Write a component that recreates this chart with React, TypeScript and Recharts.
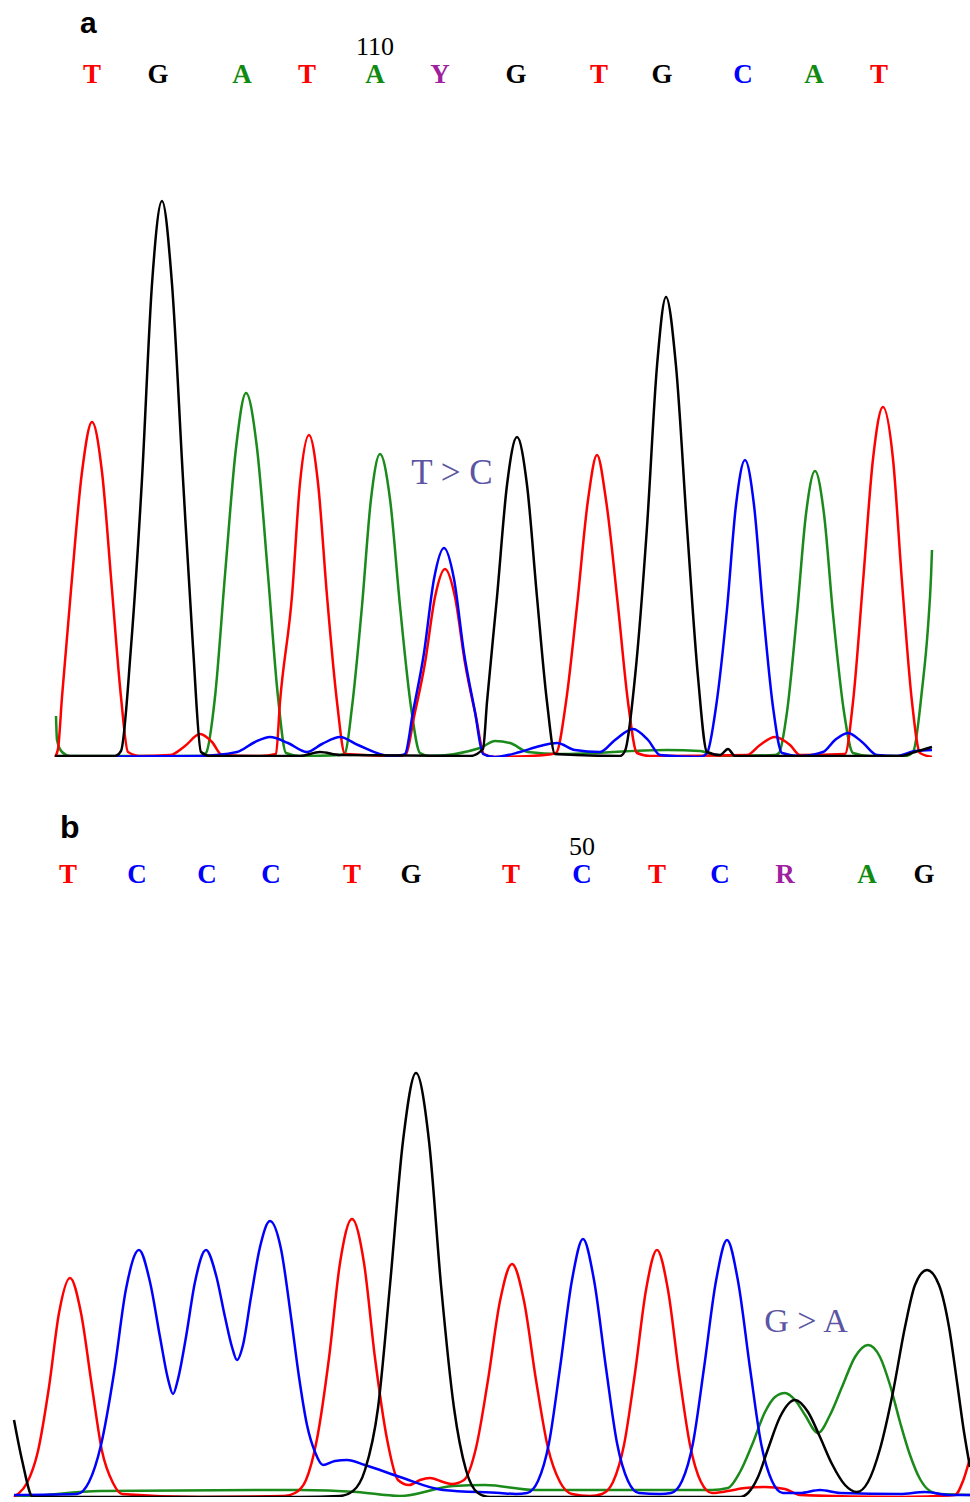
import { Line, LineChart, XAxis, YAxis } from 'recharts'

type Pt = [number, number]

// panel a — base calls (scan position, base)
const callPosA = [92, 158, 242, 307, 375, 440, 516, 599, 662, 743, 814, 879]
const callsA = ['T', 'G', 'A', 'T', 'A', 'Y', 'G', 'T', 'G', 'C', 'A', 'T']
const numberA = { index: 4, label: '110' }

// panel b — base calls
const callPosB = [68, 137, 207, 271, 352, 411, 511, 582, 657, 720, 785, 867, 924]
const callsB = ['T', 'C', 'C', 'C', 'T', 'G', 'T', 'C', 'T', 'C', 'R', 'A', 'G']
const numberB = { index: 7, label: '50' }

// panel a traces: [scan, signal]
const redA: Pt[] = [
  [55, 0], [58, 8], [62, 60], [71, 167], [82, 285], [92, 335], [102, 285], [112, 167], [121, 60], [128, 5],
  [140, 1], [170, 2], [185, 11], [200, 23], [212, 15], [222, 2], [260, 1], [276, 3],
  [280, 55], [292, 161], [300, 274], [309, 322], [318, 274], [327, 161], [337, 55], [345, 3], [400, 1],
  [406, 3], [414, 40], [425, 94], [435, 160], [445, 188], [455, 160], [465, 94], [476, 40], [484, 3],
  [495, 0], [545, 2], [556, 4],
  [566, 55], [577, 151], [588, 257], [597, 302], [606, 257], [618, 151], [628, 55], [637, 4],
  [650, 1], [747, 2], [760, 12], [775, 20], [790, 12], [800, 2], [845, 3],
  [853, 55], [863, 175], [873, 298], [883, 350], [893, 298], [902, 175], [912, 55], [920, 4], [932, 0],
]
const blackA: Pt[] = [
  [55, 1], [115, 1], [121, 6],
  [131, 110], [142, 278], [152, 473], [162, 556], [172, 473], [183, 278], [193, 110], [201, 5],
  [210, 1], [300, 1], [320, 5], [340, 2], [470, 1], [483, 8],
  [487, 55], [497, 160], [507, 272], [517, 320], [527, 272], [537, 160], [547, 55], [555, 3],
  [620, 1], [625, 6],
  [635, 80], [647, 230], [657, 391], [666, 460], [676, 391], [687, 230], [698, 80], [707, 5],
  [720, 2], [728, 8], [735, 1], [900, 1], [915, 5], [932, 10],
]
const greenA: Pt[] = [
  [56, 41], [57, 17], [62, 5], [70, 1], [200, 1], [206, 4],
  [215, 60], [225, 182], [236, 309], [246, 364], [257, 309], [268, 182], [278, 60], [286, 4],
  [300, 1], [340, 2], [345, 4],
  [352, 50], [362, 151], [371, 258], [380, 303], [390, 258], [400, 151], [411, 50], [420, 4],
  [430, 1], [480, 9], [495, 16], [510, 14], [528, 5], [560, 3], [667, 7], [700, 6], [720, 1], [775, 2], [779, 4],
  [787, 45], [797, 143], [806, 243], [815, 286], [824, 243], [833, 143], [844, 45], [853, 4],
  [870, 1], [905, 1], [913, 5], [922, 67], [928, 130], [931, 180], [932, 207],
]
const blueA: Pt[] = [
  [55, 0], [200, 1], [237, 5], [255, 15], [270, 20], [288, 14], [307, 5], [322, 13], [340, 20], [358, 12], [390, 1], [402, 2],
  [405, 3], [413, 45], [424, 104], [434, 178], [444, 209], [454, 178], [464, 104], [475, 45], [483, 3],
  [495, 0], [520, 5], [540, 11], [557, 14], [575, 7], [600, 5], [615, 17], [633, 28], [648, 17], [660, 2], [700, 0], [707, 4],
  [716, 50], [727, 148], [736, 252], [745, 297], [754, 252], [763, 148], [773, 50], [782, 4],
  [800, 1], [823, 5], [835, 17], [848, 24], [862, 15], [877, 2], [897, 1], [915, 6], [932, 7],
]

// panel b traces
const redB: Pt[] = [
  [14, 0], [18, 3], [27, 14], [38, 46], [49, 110], [59, 184], [70, 219], [81, 184], [92, 110], [102, 46], [113, 14], [122, 3],
  [200, 0], [284, 1], [295, 4], [306, 17], [317, 58], [329, 139], [340, 234], [352, 278], [364, 234], [375, 139], [387, 58], [398, 17],
  [409, 12], [420, 17], [430, 19], [443, 15], [452, 13],
  [464, 17], [476, 49], [488, 117], [500, 196], [512, 233], [524, 196], [536, 117], [548, 49], [560, 15], [572, 3],
  [590, 1], [602, 3], [613, 15], [624, 52], [635, 124], [646, 207], [657, 247], [668, 207], [679, 124], [690, 52], [701, 15], [712, 4],
  [728, 6], [745, 9], [765, 10], [785, 8], [800, 2], [900, 0], [955, 2], [963, 16], [970, 39],
]
const blueB: Pt[] = [
  [14, 2], [77, 3], [89, 15], [101, 52], [114, 124], [126, 208], [139, 247], [150, 215], [160, 160], [168, 118], [173, 103],
  [178, 118], [186, 160], [195, 215], [206, 247], [216, 222], [225, 180], [232, 150], [237, 137],
  [243, 152], [251, 200], [260, 250], [270, 276], [281, 248], [291, 180], [299, 120], [307, 72], [315, 45], [323, 32],
  [335, 36], [347, 37], [365, 32], [400, 20], [443, 7], [500, 4], [516, 3],
  [527, 4], [538, 16], [549, 54], [560, 129], [572, 217], [583, 258], [594, 217], [606, 129], [617, 54], [628, 16], [639, 4],
  [660, 3], [671, 4], [682, 16], [693, 54], [704, 129], [716, 216], [727, 257], [738, 216], [750, 129], [761, 54], [772, 16], [783, 4],
  [800, 4], [820, 7], [840, 4], [900, 3], [925, 5], [950, 2], [970, 2],
]
const blackB: Pt[] = [
  [14, 77], [22, 37], [33, 0], [300, 0], [340, 1],
  [353, 6], [365, 27], [378, 89], [390, 212], [403, 356], [416, 424], [429, 356], [441, 212], [454, 89], [466, 27], [478, 4],
  [490, 0], [740, 0], [748, 4], [758, 20], [768, 48], [780, 80], [795, 97], [808, 85], [820, 60], [832, 33], [845, 12], [857, 5],
  [868, 15], [880, 48], [893, 105], [905, 170], [915, 212], [927, 227], [939, 212], [949, 170], [957, 115], [964, 65], [970, 30],
]
const greenB: Pt[] = [
  [14, 0], [33, 1], [100, 6], [300, 7], [357, 5], [400, 1], [453, 11], [485, 12], [535, 7], [712, 7], [728, 9],
  [740, 25], [752, 52], [765, 85], [775, 100], [785, 104], [795, 97], [805, 82], [818, 64],
  [830, 82], [842, 110], [855, 140], [868, 152], [880, 140], [890, 112], [900, 75], [910, 42], [920, 18], [930, 6], [940, 3], [970, 2],
]

const BASE_COLORS: Record<string, string> = {
  T: '#ff0000',
  G: '#000000',
  A: '#108a10',
  C: '#0000ff',
  Y: '#a01f9f',
  R: '#a01f9f',
}

const TRACE = { red: '#ff0000', black: '#000000', blue: '#0000ff', green: '#1a8a1a' }

const toRows = (pts: Pt[]) => pts.map(([x, v]) => ({ x, v }))

function CallTick(props: any) {
  const { x, y, payload, positions, calls, number } = props
  const i = positions.indexOf(payload.value)
  const base = calls[i]
  return (
    <g>
      {i === number.index && (
        <text x={x} y={y - 28} textAnchor="middle" fontFamily="'Liberation Serif', serif" fontSize={26} fill="#000">
          {number.label}
        </text>
      )}
      <text
        x={x}
        y={y}
        textAnchor="middle"
        fontFamily="'Liberation Serif', serif"
        fontWeight="bold"
        fontSize={27}
        fill={BASE_COLORS[base]}
      >
        {base}
      </text>
    </g>
  )
}

interface PanelProps {
  top: number
  height: number
  plotHeight: number
  positions: number[]
  calls: string[]
  number: { index: number; label: string }
  traces: { pts: Pt[]; color: string; name: string }[]
}

function Panel({ top, height, plotHeight, positions, calls, number, traces }: PanelProps) {
  return (
    <div style={{ position: 'absolute', left: 0, top }}>
      <LineChart width={970} height={height} margin={{ top: 0, right: 0, bottom: height - 83 - plotHeight, left: 0 }}>
        <XAxis
          dataKey="x"
          type="number"
          orientation="top"
          domain={[0, 970]}
          allowDataOverflow
          ticks={positions}
          interval={0}
          height={83}
          axisLine={false}
          tickLine={false}
          tickSize={0}
          tickMargin={0}
          tick={(p: any) => <CallTick {...p} positions={positions} calls={calls} number={number} />}
        />
        <YAxis hide domain={[0, plotHeight]} allowDataOverflow />
        {traces.map(t => (
          <Line
            key={t.name}
            data={toRows(t.pts)}
            dataKey="v"
            type="monotone"
            stroke={t.color}
            strokeWidth={2.5}
            dot={false}
            activeDot={false}
            isAnimationActive={false}
          />
        ))}
      </LineChart>
    </div>
  )
}

export default function App() {
  return (
    <div style={{ position: 'absolute', left: 0, top: 0, width: 970, height: 1502, background: '#fff' }}>
      <Panel
        top={0}
        height={762}
        plotHeight={674}
        positions={callPosA}
        calls={callsA}
        number={numberA}
        traces={[
          { name: 'green', pts: greenA, color: TRACE.green },
          { name: 'red', pts: redA, color: TRACE.red },
          { name: 'blue', pts: blueA, color: TRACE.blue },
          { name: 'black', pts: blackA, color: TRACE.black },
        ]}
      />
      <Panel
        top={800}
        height={702}
        plotHeight={614}
        positions={callPosB}
        calls={callsB}
        number={numberB}
        traces={[
          { name: 'green', pts: greenB, color: TRACE.green },
          { name: 'red', pts: redB, color: TRACE.red },
          { name: 'blue', pts: blueB, color: TRACE.blue },
          { name: 'black', pts: blackB, color: TRACE.black },
        ]}
      />
      <svg width={970} height={1502} style={{ position: 'absolute', left: 0, top: 0, pointerEvents: 'none' }}>
        <text x={80} y={33} fontFamily="'Liberation Sans', Arial, sans-serif" fontWeight="bold" fontSize={30} fill="#000">
          a
        </text>
        <text x={60} y={838} fontFamily="'Liberation Sans', Arial, sans-serif" fontWeight="bold" fontSize={32} fill="#000">
          b
        </text>
        <text x={452} y={484} textAnchor="middle" fontFamily="'Liberation Serif', serif" fontSize={35} fill="#5b55a3">
          T &gt; C
        </text>
        <text x={806} y={1332} textAnchor="middle" fontFamily="'Liberation Serif', serif" fontSize={34} fill="#5b55a3">
          G &gt; A
        </text>
      </svg>
    </div>
  )
}
